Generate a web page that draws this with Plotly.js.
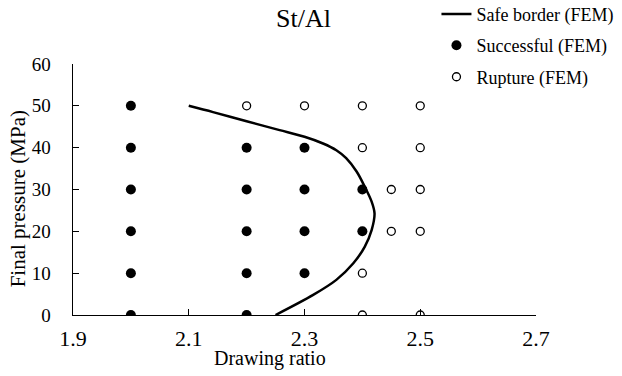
<!DOCTYPE html>
<html>
<head>
<meta charset="utf-8">
<script src="https://cdn.plot.ly/plotly-3.0.1.min.js"></script>
<style>
  html, body { margin: 0; padding: 0; background: #fff; }
  #chart { width: 622px; height: 376px; }
</style>
</head>
<body>
<div id="chart"></div>
<script>
// Safe border curve from FEM (drawing ratio vs. final pressure)
const borderRatio    = [2.10, 2.142, 2.20, 2.257, 2.30, 2.332, 2.355, 2.372, 2.39, 2.404, 2.416, 2.421, 2.416, 2.404, 2.384, 2.355, 2.315, 2.25];
const borderPressure = [50,   48.5,  46.3, 44.2,  42.6, 41.0,  39.4,  37.5,  34.3, 30.7,  27.1,  24.3,  20.3,  16.3,  12.3,  8.4,   4.8,   0];

// Successful forming cases (FEM)
const successRatio    = [2.0, 2.0, 2.0, 2.0, 2.0, 2.0, 2.2, 2.2, 2.2, 2.2, 2.2, 2.3, 2.3, 2.3, 2.3, 2.4, 2.4];
const successPressure = [0,   10,  20,  30,  40,  50,  0,   10,  20,  30,  40,  10,  20,  30,  40,  20,  30];

// Rupture cases (FEM)
const ruptureRatio    = [2.2, 2.3, 2.4, 2.4, 2.4, 2.4, 2.45, 2.45, 2.5, 2.5, 2.5, 2.5, 2.5];
const rupturePressure = [50,  50,  0,   10,  40,  50,  20,   30,   0,   20,  30,  40,  50];

const xTicks = [1.9, 2.1, 2.3, 2.5, 2.7];
const yTicks = [0, 10, 20, 30, 40, 50, 60];

const serif = "'Liberation Serif', 'Times New Roman', Times, serif";

const traces = [
  {
    x: borderRatio, y: borderPressure,
    type: 'scatter', mode: 'lines',
    name: 'Safe border (FEM)', legendgroup: 'border',
    line: { color: '#000', width: 2.5, shape: 'spline', smoothing: 0.9 }
  },
  {
    x: successRatio, y: successPressure,
    type: 'scatter', mode: 'markers',
    name: 'Successful (FEM)', legendgroup: 'success',
    marker: { symbol: 'circle', size: 10, color: '#000', line: { width: 0 } }
  },
  {
    x: ruptureRatio, y: rupturePressure,
    type: 'scatter', mode: 'markers',
    name: 'Rupture (FEM)', legendgroup: 'rupture',
    marker: { symbol: 'circle-open', size: 8, color: '#000', line: { width: 1.3, color: '#000' } }
  }
];

const layout = {
  width: 622, height: 376,
  margin: { l: 72.7, r: 86, t: 64, b: 61, autoexpand: false },
  paper_bgcolor: '#fff', plot_bgcolor: '#fff',
  font: { family: serif, size: 20, color: '#000' },
  showlegend: true,
  title: {
    text: 'St/Al',
    font: { family: serif, size: 26, color: '#000' },
    x: 303.5 / 622, xanchor: 'center', xref: 'container',
    y: 1 - 18 / 376, yanchor: 'middle', yref: 'container'
  },
  legend: {
    x: 0.785, xanchor: 'left', y: 1.272, yanchor: 'top',
    bgcolor: 'rgba(0,0,0,0)',
    font: { family: serif, size: 18, color: '#000' },
    tracegroupgap: 5,
    itemwidth: 30
  },
  xaxis: {
    range: [1.9, 2.7],
    tickvals: xTicks,
    ticktext: xTicks.map(v => v.toFixed(1)),
    ticks: 'inside', ticklen: 6, tickwidth: 1.2, tickcolor: '#000',
    showline: true, linecolor: '#000', linewidth: 1.4,
    showgrid: false, zeroline: false,
    tickfont: { family: serif, size: 22, color: '#000' },
    ticklabelstandoff: 3
  },
  yaxis: {
    range: [0, 60],
    tickvals: yTicks,
    ticks: 'inside', ticklen: 6, tickwidth: 1.2, tickcolor: '#000',
    showline: true, linecolor: '#000', linewidth: 1.4,
    showgrid: false, zeroline: false,
    tickfont: { family: serif, size: 19, color: '#000' },
    ticklabelstandoff: 17
  },
  annotations: [
    {
      text: 'Drawing ratio', xref: 'paper', yref: 'paper',
      x: (270 - 72.7) / 463.3, y: -(358 - 315) / 251, xanchor: 'center', yanchor: 'middle',
      showarrow: false, font: { family: serif, size: 20, color: '#000' }
    },
    {
      text: 'Final pressure (MPa)', xref: 'paper', yref: 'paper', textangle: -90,
      x: -(72.7 - 18) / 463.3, y: (315 - 199) / 251, xanchor: 'center', yanchor: 'middle',
      showarrow: false, font: { family: serif, size: 21, color: '#000' }
    }
  ]
};

Plotly.newPlot('chart', traces, layout, { displayModeBar: false, staticPlot: true });
</script>
</body>
</html>
